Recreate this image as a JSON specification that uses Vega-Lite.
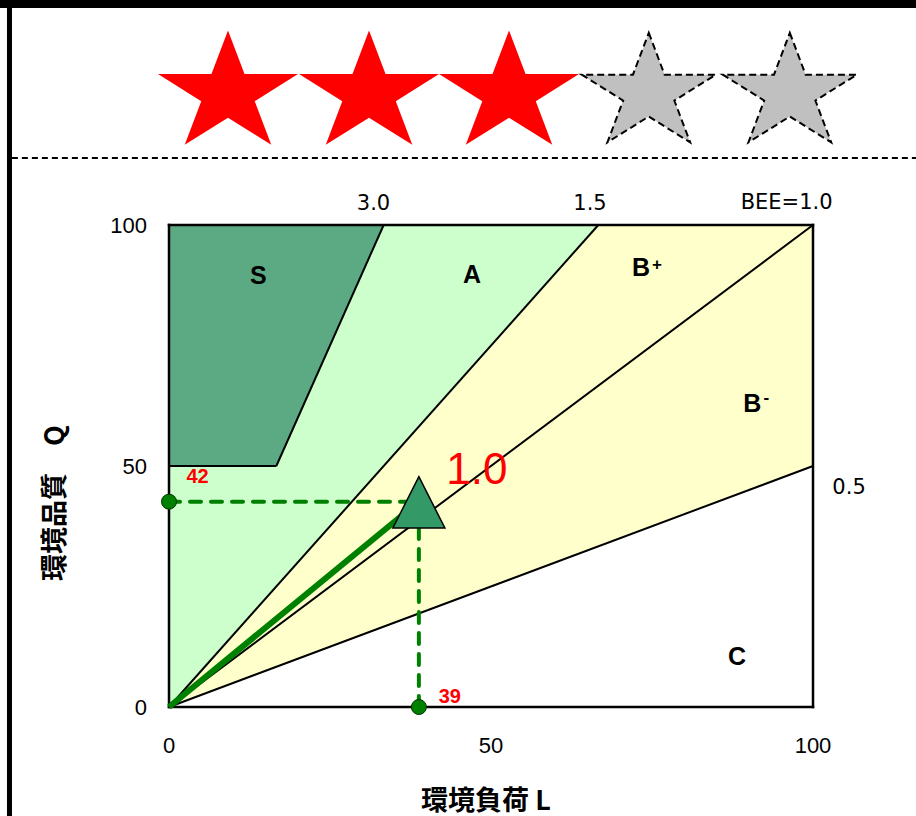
{
  "$schema": "https://vega.github.io/schema/vega-lite/v6.json",
  "width": 644,
  "height": 482,
  "autosize": "none",
  "padding": {"left": 169, "top": 225, "right": 103, "bottom": 109},
  "background": "white",
  "config": {"view": {"stroke": null}},
  "datasets": {
    "zones": [
      {"region": "A", "x": 0, "y": 0, "y2": 100},
      {"region": "A", "x": 66.667, "y": 100, "y2": 100},
      {"region": "B", "x": 0, "y": 0, "y2": 0},
      {"region": "B", "x": 66.667, "y": 33.333, "y2": 100},
      {"region": "B", "x": 100, "y": 50, "y2": 100},
      {"region": "S", "x": 0, "y": 50, "y2": 100},
      {"region": "S", "x": 16.667, "y": 50, "y2": 100},
      {"region": "S", "x": 33.333, "y": 100, "y2": 100}
    ],
    "bee_lines": [
      {"bee": 0.5, "x": 0, "y": 0, "x2": 100, "y2": 50},
      {"bee": 1.0, "x": 0, "y": 0, "x2": 100, "y2": 100},
      {"bee": 1.5, "x": 0, "y": 0, "x2": 66.667, "y2": 100},
      {"bee": 3.0, "x": 0, "y": 50, "x2": 16.667, "y2": 50},
      {"bee": 3.0, "x": 16.667, "y": 50, "x2": 33.333, "y2": 100}
    ],
    "frame": [
      {"edge": "bottom", "x": 0, "y": 0, "x2": 100, "y2": 0},
      {"edge": "right", "x": 100, "y": 0, "x2": 100, "y2": 100},
      {"edge": "top", "x": 0, "y": 100, "x2": 100, "y2": 100},
      {"edge": "left", "x": 0, "y": 0, "x2": 0, "y2": 100}
    ],
    "decor": [
      {"element": "separator", "x": -24.4, "y": 113.9, "x2": 117, "y2": 113.9},
      {"element": "top border", "x": -27, "y": 145.85, "x2": 117, "y2": 145.85},
      {"element": "left border", "x": -24.77, "y": -23, "x2": -24.77, "y2": 148}
    ],
    "axis_labels": [
      {"kind": "x tick", "label": "0", "x": 0, "y": -8.15},
      {"kind": "x tick", "label": "50", "x": 50, "y": -8.15},
      {"kind": "x tick", "label": "100", "x": 100, "y": -8.15},
      {"kind": "y tick", "label": "0", "x": -3.42, "y": 0},
      {"kind": "y tick", "label": "50", "x": -3.42, "y": 50},
      {"kind": "y tick", "label": "100", "x": -3.42, "y": 100},
      {"kind": "x title", "label": "環境負荷 L", "x": 49.22, "y": -19.71},
      {"kind": "y title", "label": "環境品質　Q", "x": -17.62, "y": 42.32}
    ],
    "result": [
      {"x": 38.8, "y": 42.6, "bee": "1.0", "lx": "39", "ly": "42"}
    ],
    "region_labels": [
      {"label": "S", "sup": "", "x": 13.87, "y": 89.4},
      {"label": "A", "sup": "", "x": 47.05, "y": 89.7},
      {"label": "B", "sup": "+", "x": 73.3, "y": 91.1},
      {"label": "B", "sup": "-", "x": 90.56, "y": 62.8},
      {"label": "C", "sup": "", "x": 88.2, "y": 10.3}
    ],
    "bee_labels": [
      {"label": "3.0", "x": 31.75, "y": 104.3},
      {"label": "1.5", "x": 65.37, "y": 104.3},
      {"label": "BEE=1.0", "x": 95.9, "y": 104.5},
      {"label": "0.5", "x": 105.6, "y": 45.4}
    ],
    "stars": [
      {"rank": 1, "status": "on", "x": 9.16, "y": 128.5},
      {"rank": 2, "status": "on", "x": 31.06, "y": 128.5},
      {"rank": 3, "status": "on", "x": 52.8, "y": 128.5},
      {"rank": 4, "status": "off", "x": 74.5, "y": 128.5},
      {"rank": 5, "status": "off", "x": 96.4, "y": 128.5}
    ]
  },
  "encoding": {
    "x": {
      "field": "x", "type": "quantitative",
      "scale": {"domain": [0, 100], "nice": false, "zero": false},
      "axis": null
    },
    "y": {
      "field": "y", "type": "quantitative",
      "scale": {"domain": [0, 100], "nice": false, "zero": false},
      "axis": null
    }
  },
  "layer": [
    {
      "data": {"name": "zones"},
      "transform": [{"filter": "datum.region !== 'S'"}],
      "mark": {"type": "area", "opacity": 1},
      "encoding": {
        "y2": {"field": "y2"},
        "color": {"field": "region", "type": "nominal", "scale": {"domain": ["A", "B", "S"], "range": ["#CCFFCC", "#FFFFCC", "#5BAA84"]}, "legend": null}
      }
    },
    {
      "data": {"name": "zones"},
      "transform": [{"filter": "datum.region === 'S'"}],
      "mark": {"type": "area", "opacity": 1, "color": "#5BAA84"},
      "encoding": {"y2": {"field": "y2"}}
    },
    {
      "data": {"name": "bee_lines"},
      "mark": {"type": "rule", "color": "#000000", "strokeWidth": 2},
      "encoding": {"x2": {"field": "x2"}, "y2": {"field": "y2"}}
    },
    {
      "data": {"name": "frame"},
      "mark": {"type": "rule", "color": "#000000", "strokeWidth": 2.5, "strokeCap": "square"},
      "encoding": {"x2": {"field": "x2"}, "y2": {"field": "y2"}}
    },
    {
      "data": {"name": "result"},
      "mark": {"type": "rule", "color": "#008000", "strokeWidth": 6},
      "encoding": {
        "x": {"datum": 0, "type": "quantitative", "axis": null},
        "y": {"datum": 0, "type": "quantitative", "axis": null},
        "x2": {"field": "x"},
        "y2": {"field": "y"}
      }
    },
    {
      "data": {"name": "result"},
      "mark": {"type": "rule", "color": "#008000", "strokeWidth": 4, "strokeDash": [11, 10], "strokeCap": "round"},
      "encoding": {
        "x": {"datum": 0, "type": "quantitative", "axis": null},
        "x2": {"field": "x"}
      }
    },
    {
      "data": {"name": "result"},
      "mark": {"type": "rule", "color": "#008000", "strokeWidth": 4, "strokeDash": [11, 10], "strokeCap": "round"},
      "encoding": {
        "y": {"datum": 0, "type": "quantitative", "axis": null},
        "y2": {"field": "y"}
      }
    },
    {
      "data": {"name": "result"},
      "mark": {"type": "point", "shape": "circle", "filled": true, "fill": "#008000", "stroke": "#003300", "strokeWidth": 1, "size": 225, "opacity": 1},
      "encoding": {"x": {"datum": 0, "type": "quantitative", "axis": null}}
    },
    {
      "data": {"name": "result"},
      "mark": {"type": "point", "shape": "circle", "filled": true, "fill": "#008000", "stroke": "#003300", "strokeWidth": 1, "size": 225, "opacity": 1},
      "encoding": {"y": {"datum": 0, "type": "quantitative", "axis": null}}
    },
    {
      "data": {"name": "result"},
      "mark": {"type": "point", "shape": "M0,-0.96L1,1.01L-1,1.01Z", "filled": true, "fill": "#339966", "stroke": "#000000", "strokeWidth": 1.5, "size": 2704, "opacity": 1}
    },
    {
      "data": {"name": "result"},
      "mark": {"type": "text", "font": "Liberation Sans", "fontSize": 44, "color": "#FF0000", "align": "center", "baseline": "middle", "dx": 58, "dy": -31},
      "encoding": {"text": {"field": "bee"}}
    },
    {
      "data": {"name": "result"},
      "mark": {"type": "text", "font": "Liberation Sans", "fontSize": 20, "fontWeight": "bold", "color": "#FF0000", "align": "center", "baseline": "middle", "dx": 28.5, "dy": -25},
      "encoding": {"x": {"datum": 0, "type": "quantitative", "axis": null}, "text": {"field": "ly"}}
    },
    {
      "data": {"name": "result"},
      "mark": {"type": "text", "font": "Liberation Sans", "fontSize": 20, "fontWeight": "bold", "color": "#FF0000", "align": "center", "baseline": "middle", "dx": 31, "dy": -10.5},
      "encoding": {"y": {"datum": 0, "type": "quantitative", "axis": null}, "text": {"field": "lx"}}
    },
    {
      "data": {"name": "region_labels"},
      "mark": {"type": "text", "font": "Liberation Sans", "fontSize": 25, "fontWeight": "bold", "color": "#000000", "align": "center", "baseline": "middle"},
      "encoding": {"text": {"field": "label"}}
    },
    {
      "data": {"name": "region_labels"},
      "transform": [{"filter": "datum.sup === '+'"}],
      "mark": {"type": "text", "font": "Liberation Sans", "fontSize": 17, "fontWeight": "bold", "color": "#000000", "align": "center", "baseline": "middle", "dx": 16, "dy": -3},
      "encoding": {"text": {"field": "sup"}}
    },
    {
      "data": {"name": "region_labels"},
      "transform": [{"filter": "datum.sup === '-'"}],
      "mark": {"type": "text", "font": "Liberation Sans", "fontSize": 17, "fontWeight": "bold", "color": "#000000", "align": "center", "baseline": "middle", "dx": 14, "dy": -6},
      "encoding": {"text": {"field": "sup"}}
    },
    {
      "data": {"name": "bee_labels"},
      "mark": {"type": "text", "font": "DejaVu Sans", "fontSize": 21, "color": "#000000", "align": "center", "baseline": "middle"},
      "encoding": {"text": {"field": "label"}}
    },
    {
      "data": {"name": "axis_labels"},
      "transform": [{"filter": "datum.kind === 'x tick'"}],
      "mark": {"type": "text", "font": "Liberation Sans", "fontSize": 22, "color": "#000000", "align": "center", "baseline": "middle"},
      "encoding": {"text": {"field": "label"}}
    },
    {
      "data": {"name": "axis_labels"},
      "transform": [{"filter": "datum.kind === 'y tick'"}],
      "mark": {"type": "text", "font": "Liberation Sans", "fontSize": 22, "color": "#000000", "align": "right", "baseline": "middle", "dy": 1},
      "encoding": {"text": {"field": "label"}}
    },
    {
      "data": {"name": "axis_labels"},
      "transform": [{"filter": "datum.kind === 'x title'"}],
      "mark": {"type": "text", "font": "Noto Sans CJK JP", "fontSize": 27, "fontWeight": "bold", "color": "#000000", "align": "center", "baseline": "middle"},
      "encoding": {"text": {"field": "label"}}
    },
    {
      "data": {"name": "axis_labels"},
      "transform": [{"filter": "datum.kind === 'y title'"}],
      "mark": {"type": "text", "font": "Noto Sans CJK JP", "fontSize": 27, "fontWeight": "bold", "color": "#000000", "align": "center", "baseline": "middle", "angle": 270},
      "encoding": {"text": {"field": "label"}}
    },
    {
      "data": {"name": "stars"},
      "transform": [{"filter": "datum.status === 'on'"}],
      "mark": {"type": "point", "shape": "M0,-0.817L0.236,-0.193L1,-0.193L0.382,0.193L0.618,0.817L0,0.431L-0.618,0.817L-0.382,0.193L-1,-0.193L-0.236,-0.193Z", "filled": true, "fill": "#FF0000", "strokeWidth": 0, "size": 19600, "opacity": 1}
    },
    {
      "data": {"name": "stars"},
      "transform": [{"filter": "datum.status === 'off'"}],
      "mark": {"type": "point", "shape": "M0,-0.817L0.236,-0.193L1,-0.193L0.382,0.193L0.618,0.817L0,0.431L-0.618,0.817L-0.382,0.193L-1,-0.193L-0.236,-0.193Z", "filled": true, "fill": "#C0C0C0", "stroke": "#000000", "strokeWidth": 2, "strokeDash": [7, 4], "size": 17956, "opacity": 1}
    },
    {
      "data": {"name": "decor"},
      "transform": [{"filter": "datum.element === 'separator'"}],
      "mark": {"type": "rule", "color": "#000000", "strokeWidth": 2, "strokeDash": [6, 4]},
      "encoding": {"x2": {"field": "x2"}, "y2": {"field": "y2"}}
    },
    {
      "data": {"name": "decor"},
      "transform": [{"filter": "datum.element === 'top border'"}],
      "mark": {"type": "rule", "color": "#000000", "strokeWidth": 8},
      "encoding": {"x2": {"field": "x2"}, "y2": {"field": "y2"}}
    },
    {
      "data": {"name": "decor"},
      "transform": [{"filter": "datum.element === 'left border'"}],
      "mark": {"type": "rule", "color": "#000000", "strokeWidth": 5},
      "encoding": {"x2": {"field": "x2"}, "y2": {"field": "y2"}}
    }
  ]
}
